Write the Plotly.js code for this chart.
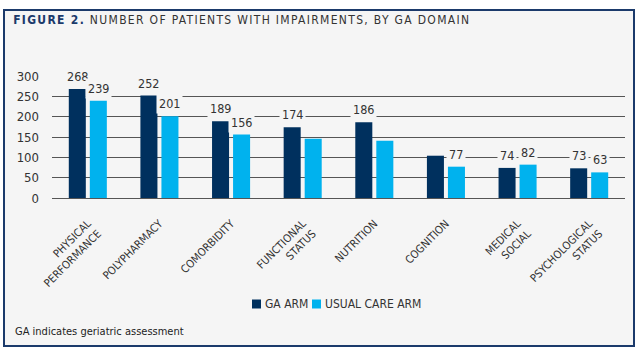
<!DOCTYPE html>
<html><head><meta charset="utf-8">
<script src="https://cdn.plot.ly/plotly-3.0.1.min.js"></script>
<style>
html,body{margin:0;padding:0;background:#fff;}
#frame{position:absolute;left:3px;top:9px;width:632px;height:338px;box-sizing:border-box;border:2px solid #1b3a6b;background:#f5f5f5;}
#chart{width:628px;height:334px;}
.main-svg .gtitle{letter-spacing:0.11em;}
</style>
</head><body>
<div id="frame"><div id="chart"></div></div>
<script>
const categories = ['PHYSICAL<br>PERFORMANCE','POLYPHARMACY','COMORBIDITY','FUNCTIONAL<br>STATUS','NUTRITION','COGNITION','MEDICAL<br>SOCIAL','PSYCHOLOGICAL<br>STATUS'];
const gaArm = [268, 252, 189, 174, 186, 104, 74, 73];
const usualCare = [239, 201, 156, 146, 141, 77, 82, 63];
const gaLabels = ['268','252','189','174','186',null,'74','73'];
const ucLabels = ['239','201','156',null,null,'77','82','63'];
const yTicks = [0, 50, 100, 150, 200, 250, 300];
const seriesNames = ['GA ARM', 'USUAL CARE ARM'];

const FONT = 'DejaVu Sans Condensed, Liberation Sans Narrow, Arial, sans-serif';
const NAVY = '#00305e', CYAN = '#00b2ee';

const traces = [
  {type:'bar', name:seriesNames[0], x:categories, y:gaArm, marker:{color:NAVY}, hoverinfo:'skip', showlegend:false},
  {type:'bar', name:seriesNames[1], x:categories, y:usualCare, marker:{color:CYAN}, hoverinfo:'skip', showlegend:false}
];

const annotations = [];
function addLabels(vals, labels, shift){
  labels.forEach((t,i)=>{
    if(t===null) return;
    annotations.push({x:categories[i], y:vals[i], xref:'x', yref:'y', text:t, showarrow:false,
      xshift:shift, yshift:2, yanchor:'bottom', bgcolor:'#f5f5f5', borderpad:2,
      font:{family:FONT, size:12.5, color:'#333'}});
  });
}
addLabels(gaArm, gaLabels, -10.5);
addLabels(usualCare, ucLabels, 10.5);
annotations.push({xref:'paper', yref:'paper', x:-0.068, y:-1.098, xanchor:'left', yanchor:'middle',
  text:'GA indicates geriatric assessment', showarrow:false, font:{family:FONT, size:11, color:'#222'}});

// manual legend (plot-area px -> paper)
const PW = 573, PH = 122;
const shapes = [];
const legItems = [{x0:252, color:NAVY, text:seriesNames[0]}, {x0:312, color:CYAN, text:seriesNames[1]}];
legItems.forEach(it=>{
  const xa = (it.x0-52)/PW, xb = (it.x0+9-52)/PW;
  shapes.push({type:'rect', xref:'paper', yref:'paper', x0:xa, x1:xb, y0:(198-299.5)/PH, y1:(198-308.5)/PH,
    fillcolor:it.color, line:{width:0}});
  annotations.push({xref:'paper', yref:'paper', x:(it.x0+11-52)/PW, y:(198-304)/PH, xanchor:'left', yanchor:'middle',
    text:it.text, showarrow:false, font:{family:FONT, size:12, color:'#333'}});
});

const layout = {
  width:628, height:334,
  margin:{l:47, r:8, t:65, b:147},
  paper_bgcolor:'#f5f5f5', plot_bgcolor:'#f5f5f5',
  font:{family:FONT, color:'#333'},
  title:{text:'<b><span style="color:#1b3a6b">FIGURE 2.</span></b> NUMBER OF PATIENTS WITH IMPAIRMENTS, BY GA DOMAIN',
    x:0.013, xanchor:'left', xref:'container', y:0.973, yanchor:'middle', yref:'container',
    font:{family:FONT, size:12, color:'#333'}},
  barmode:'group', bargap:0.413, bargroupgap:0.19,
  xaxis:{type:'category', tickangle:-45, ticklabelstandoff:16, showgrid:false, showline:false, zeroline:false,
    tickfont:{family:FONT, size:11, color:'#333'}, fixedrange:true},
  yaxis:{range:[0,300], tickvals:yTicks, ticktext:yTicks.map(String), showgrid:true, gridcolor:'#555', gridwidth:1,
    zeroline:true, zerolinecolor:'#555', zerolinewidth:1, showline:false, ticks:'', ticklabelstandoff:12,
    tickfont:{family:FONT, size:13, color:'#333'}, fixedrange:true},
  annotations:annotations,
  shapes:shapes,
  showlegend:false
};
Plotly.newPlot('chart', traces, layout, {displayModeBar:false, staticPlot:true});
</script>
</body></html>
